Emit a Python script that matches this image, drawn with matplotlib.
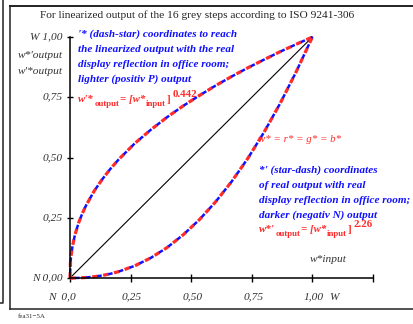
import matplotlib
matplotlib.use('Agg')
import matplotlib.pyplot as plt
import matplotlib.transforms as mtransforms
from matplotlib.lines import Line2D

plt.rcParams['lines.scale_dashes'] = False

W, H = 414, 324

# ---- data ----
x_in = [0, 0.002, 0.005, 0.01, 0.02, 0.035, 0.05, 0.0667, 0.1, 0.1333, 0.1667, 0.2,
        0.2667, 0.3333, 0.4, 0.4667, 0.5333, 0.6, 0.6667, 0.7333, 0.8, 0.8667, 0.9333, 1.0]
y_light = [0, 0.0641, 0.0961, 0.1306, 0.1775, 0.2272, 0.2660, 0.302, 0.3614, 0.410, 0.4530, 0.491,
           0.558, 0.615, 0.667, 0.714, 0.757, 0.798, 0.836, 0.872, 0.906, 0.939, 0.970, 1.0]
y_dark = [0, 0, 0, 0, 0.0001, 0.0005, 0.0011, 0.0022, 0.0055, 0.0105, 0.0174, 0.0263,
          0.0504, 0.0835, 0.126, 0.179, 0.2416, 0.3153, 0.400, 0.496, 0.604, 0.724, 0.856, 1.0]
diag_x = [0, 1]
diag_y = [0, 1]

xticks = [0, 0.25, 0.5, 0.75, 1.0, 1.25]
xticklabels = ['N  0,0', '0,25', '0,50', '0,75', '1,00', '']
yticks = [0, 0.25, 0.5, 0.75, 1.0]
yticklabels = ['N 0,00', '0,25', '0,50', '0,75', 'W 1,00']

title = 'For linearized output of the 16 grey steps according to ISO 9241-306'
blue1 = ["'* (dash-star) coordinates to reach",
         "the linearized output with the real",
         "display reflection in office room;",
         "lighter (positiv P) output"]
blue2 = ["*' (star-dash) coordinates",
         "of real output with real",
         "display reflection in office room;",
         "darker (negativ N) output"]
gamma_light = '0.442'
gamma_dark = '2.26'

SERIF = 'Liberation Serif'
TICKC = '#333333'
RED = '#ff2a2a'
BLUE = '#1010ff'

fig = plt.figure(figsize=(W / 100, H / 100), dpi=100)
pix = mtransforms.Affine2D().scale(1 / W, -1 / H).translate(0, 1) + fig.transFigure

ax = fig.add_axes([70 / W, 1 - 278 / H, 303 / W, 241 / H])
ax.set_xlim(0, 1.25)
ax.set_ylim(0, 1)
for s in ['top', 'right']:
    ax.spines[s].set_visible(False)
for s in ['left', 'bottom']:
    ax.spines[s].set_linewidth(1.1)
ax.spines['left'].set_bounds(0, 1)
ax.set_xticks(xticks)
ax.set_yticks(yticks)
ax.set_xticklabels([])
ax.set_yticklabels([])
ax.tick_params(axis='x', direction='inout', length=5.8, width=1.0)
ax.tick_params(axis='y', direction='inout', length=4.3, width=1.0)
ax.patch.set_visible(False)

# curves
ax.plot(diag_x, diag_y, color='black', lw=0.8, clip_on=False)
for ys in (y_light, y_dark):
    ax.plot(x_in, ys, color=RED, lw=2.3, linestyle=(0, (4, 4)), clip_on=False,
            dash_capstyle='butt')
    ax.plot(x_in, ys, color=BLUE, lw=1.8, linestyle=(4.3, (3.2, 4.8)), clip_on=False,
            dash_capstyle='butt')

# tick labels
bx = mtransforms.blended_transform_factory(ax.transData, pix)
by = mtransforms.blended_transform_factory(pix, ax.transData)
tk = dict(family=SERIF, style='italic', fontsize=8.2, color=TICKC)
for xv, lab in zip(xticks, xticklabels):
    if not lab:
        continue
    if xv == 0:
        ax.text(xv + 5.5 / 242, 297, lab, transform=bx, ha='right', va='center', **tk)
    else:
        ax.text(xv + 1.5 / 242, 297, lab, transform=bx, ha='center', va='center', **tk)
ax.text(1.0 + 17 / 242, 297, 'W', transform=bx, ha='left', va='center', **tk)
for yv, lab in zip(yticks, yticklabels):
    ax.text(63, yv, lab, transform=by, ha='right', va='center', **tk)
fig.text(63, 55, "w*'output", transform=pix, ha='right', va='center', **tk)
fig.text(63, 71, "w'*output", transform=pix, ha='right', va='center', **tk)
fig.text(328, 260, 'w*input', transform=pix, ha='center', va='center', **tk)

# title
fig.text(197, 15, title, transform=pix, ha='center', va='center',
         family=SERIF, fontsize=8.2, color='#222222')

# blue text blocks
bt = dict(family=SERIF, style='italic', weight='bold', fontsize=8.0, color=BLUE)
for i, line in enumerate(blue1):
    fig.text(78, 37 + 15 * i, line, transform=pix, ha='left', va='baseline', **bt)
for i, line in enumerate(blue2):
    fig.text(259, 173 + 15 * i, line, transform=pix, ha='left', va='baseline', **bt)

# red formulas
rt = dict(family=SERIF, weight='bold', color=RED)
fig.canvas.draw()
renderer = fig.canvas.get_renderer()


def piece(xpx, ypx, s, size, style='normal'):
    t = fig.text(xpx, ypx, s, transform=pix, va='baseline', ha='left',
                 fontsize=size, style=style, **rt)
    bb = t.get_window_extent(renderer)
    return bb.x1


def formula_line(x0, yb, head, gamma):
    x = piece(x0, yb, head, 7.8, 'italic')
    x = piece(x + 0.5, yb + 4, 'output', 6.3)
    x = piece(x + 1, yb, '= [w*', 7.8, 'italic')
    x = piece(x + 0.3, yb + 4, 'input', 6.3)
    x = piece(x + 0.5, yb, ']', 7.8)
    piece(x + 2.5, yb - 5, gamma, 7.8)


formula_line(78, 102, "w'*", gamma_light)
formula_line(259, 232, "w*'", gamma_dark)

fig.text(258, 142, 'w* = r* = g* = b*', transform=pix, ha='left', va='baseline',
         family=SERIF, style='italic', fontsize=7.8, color=RED)

# frame lines
fc = '#222222'
fig.add_artist(Line2D([10, 10], [6, 309], transform=pix, color=fc, lw=1.1))
fig.add_artist(Line2D([10, 414], [6, 6], transform=pix, color=fc, lw=1.4))
fig.add_artist(Line2D([10, 414], [309, 309], transform=pix, color=fc, lw=1.1))
fig.add_artist(Line2D([0, 3, 3], [303, 303, 0], transform=pix, color=fc, lw=1.1))
fig.text(18, 317, 'fea31\u22125A', transform=pix, ha='left', va='center',
         family=SERIF, fontsize=5, color='#333333')

fig.savefig('out.png', dpi=100)
